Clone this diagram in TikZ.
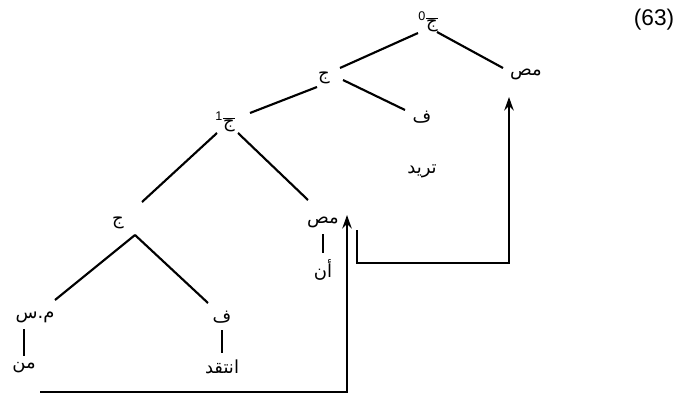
\documentclass[tikz,border=0pt]{standalone}
\usepackage{fontspec}
\setmainfont{Liberation Sans}
\newfontfamily\arabicfont[Script=Arabic]{DejaVu Sans}
\TeXXeTstate=1
\usetikzlibrary{arrows.meta}
\newcommand{\artxt}[1]{{\arabicfont\beginR #1\endR}}
\newcommand{\jbar}[1]{\textsuperscript{#1}$\overline{\hbox{\artxt{ج}}}$}

\begin{document}
\begin{tikzpicture}[x=0.75pt, y=-0.75pt, font=\fontsize{13.5}{16}\selectfont,
    every node/.style={inner sep=2pt},
    edge/.style={line width=1.6pt},
    bar/.style={line width=1.6pt, shorten <=3pt, shorten >=3pt},
    move/.style={line width=1.6pt, -{Stealth[length=10pt,width=7pt]}}]
        \useasboundingbox (0,0) rectangle (681,396);
        % upper clause
        \node (cbar0) at (428,22) {\jbar{0}};
        \node (exnum) at (654,20) {\fontsize{17}{20}\selectfont (63)};
        \node (c0) at (324,78) {\artxt{ج}};
        \node (comp0) at (526,74) {\artxt{مص}};
        \node (v0) at (422,117) {\artxt{ف}};
        \node (want) at (422,171) {\artxt{تريد}};
        % embedded clause
        \node (cbar1) at (225,122) {\jbar{1}};
        \node (c1) at (118,223) {\artxt{ج}};
        \node (comp1) at (323,222) {\artxt{مص}};
        \node (an) at (323,270) {\artxt{أن}};
        \node (np) at (35,317) {\artxt{م.س}};
        \node (who) at (24,368) {\artxt{من}};
        \node (v1) at (222,317) {\artxt{ف}};
        \node (crit) at (222,367) {\artxt{انتقد}};
        % branches
        \draw[edge] ([shift={(-10,11)}]cbar0.center) -- ([shift={(16,-10)}]c0.center);
        \draw[edge] ([shift={(9,10)}]cbar0.center) -- ([shift={(-23,-6)}]comp0.center);
        \draw[edge] ([shift={(-7,9)}]c0.center) -- ([shift={(25,-9)}]cbar1.center);
        \draw[edge] ([shift={(19,2)}]c0.center) -- ([shift={(-17,-7)}]v0.center);
        \draw[edge] ([shift={(-8,11)}]cbar1.center) -- ([shift={(24,-21)}]c1.center);
        \draw[edge] ([shift={(13,11)}]cbar1.center) -- ([shift={(-15,-22)}]comp1.center);
        \draw[edge] ([shift={(17,12)}]c1.center) -- ([shift={(20,-17)}]np.center);
        \draw[edge] ([shift={(17,12)}]c1.center) -- ([shift={(-14,-14)}]v1.center);
        \draw[bar] (comp1.south) -- (comp1.south |- an.north);
        \draw[bar] (who.north |- np.south) -- (who.north);
        \draw[bar] (v1.south) -- (v1.south |- crit.north);
        % movement
        \coordinate (start1) at (40,392);
        \coordinate (land1) at (347,215);
        \coordinate (start2) at (357,230);
        \coordinate (land2) at (509,97);
        \draw[move] (start1) -| (land1);
        \draw[move] (start2) -- ++(0,33) -| (land2);
    \end{tikzpicture}
\end{document}
